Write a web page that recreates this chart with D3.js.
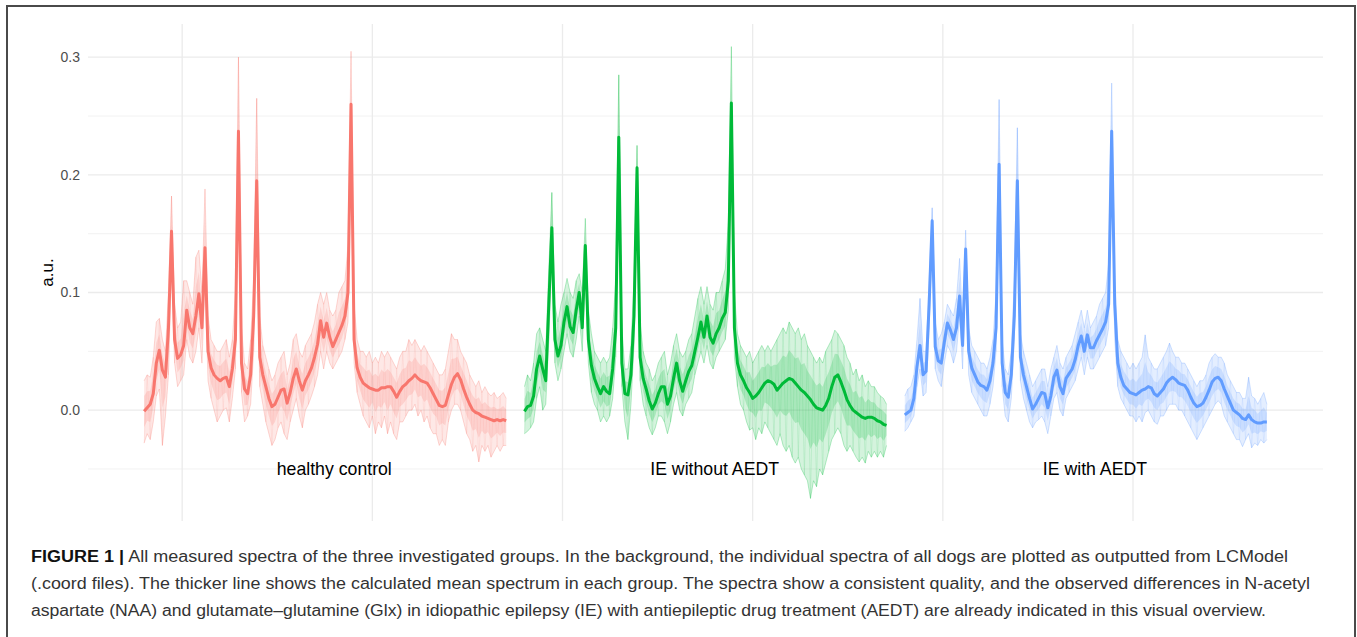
<!DOCTYPE html>
<html>
<head>
<meta charset="utf-8">
<style>
    body { margin: 0; background: #fff; }
    svg text { font-family: 'Liberation Sans', Arial, sans-serif; }
    .grid-major { stroke: #ebebeb; stroke-width: 1.3; }
    .grid-minor { stroke: #f0f0f0; stroke-width: 0.9; }
    .tick-label { fill: #4d4d4d; font-size: 14px; }
    .caption { fill: #333; font-size: 16px; }
</style>
</head>
<body>
<svg id="fig" width="1357" height="637"></svg>
<script src="https://cdnjs.cloudflare.com/ajax/libs/d3/7.8.5/d3.min.js"></script>
<script>
// groups, colours and y tick labels
var groups = ['healthy control', 'IE without AEDT', 'IE with AEDT'];
var groupColors = ['#F8766D', '#00BA38', '#619CFF'];
var yTicks = [0.0, 0.1, 0.2, 0.3];

// spectra, 120 points per group
// mean = thick line, hi / lo = spread of the individual spectra behind it
var healthyMean = [
    -0.001, 0.002, 0.005, 0.014, 0.04, 0.051, 0.034, 0.028, 0.07, 0.152,
    0.06, 0.044, 0.047, 0.055, 0.085, 0.07, 0.065, 0.08, 0.099, 0.07,
    0.138, 0.05, 0.036, 0.03, 0.027, 0.025, 0.027, 0.028, 0.02, 0.035,
    0.06, 0.237, 0.04, 0.018, 0.014, 0.03, 0.08, 0.195, 0.045, 0.03,
    0.02, 0.01, 0.003, 0.005, 0.011, 0.017, 0.018, 0.006, 0.015, 0.027,
    0.035, 0.025, 0.017, 0.025, 0.03, 0.036, 0.045, 0.056, 0.076, 0.062,
    0.074, 0.062, 0.054, 0.06, 0.066, 0.072, 0.08, 0.1, 0.26, 0.06,
    0.036, 0.028, 0.023, 0.021, 0.019, 0.018, 0.017, 0.017, 0.019, 0.019,
    0.02, 0.02, 0.016, 0.011, 0.016, 0.02, 0.022, 0.025, 0.027, 0.03,
    0.027, 0.025, 0.024, 0.023, 0.019, 0.014, 0.009, 0.004, 0.003, 0.004,
    0.013, 0.022, 0.028, 0.031, 0.026, 0.018, 0.011, 0.005, 0.0, -0.002,
    -0.003, -0.005, -0.006, -0.007, -0.008, -0.009, -0.008, -0.009, -0.008, -0.009];
var healthyHi = [
    0.025, 0.03, 0.028, 0.045, 0.075, 0.078, 0.06, 0.05, 0.1, 0.182,
    0.09, 0.07, 0.075, 0.11, 0.11, 0.1, 0.09, 0.13, 0.136, 0.1,
    0.188, 0.08, 0.06, 0.055, 0.05, 0.05, 0.055, 0.06, 0.045, 0.06,
    0.1, 0.3, 0.07, 0.04, 0.035, 0.06, 0.11, 0.265, 0.08, 0.055,
    0.045, 0.035, 0.025, 0.03, 0.04, 0.045, 0.05, 0.03, 0.04, 0.06,
    0.065, 0.05, 0.045, 0.055, 0.06, 0.065, 0.075, 0.09, 0.1, 0.09,
    0.1, 0.085, 0.08, 0.085, 0.1, 0.105, 0.11, 0.14, 0.305, 0.09,
    0.06, 0.05, 0.05, 0.045, 0.05, 0.04, 0.045, 0.04, 0.05, 0.045,
    0.05, 0.045, 0.04, 0.035, 0.045, 0.05, 0.05, 0.06, 0.055, 0.06,
    0.055, 0.05, 0.055, 0.05, 0.045, 0.04, 0.035, 0.03, 0.03, 0.035,
    0.05, 0.065, 0.06, 0.06, 0.05, 0.045, 0.04, 0.03, 0.025, 0.02,
    0.025, 0.015, 0.02, 0.015, 0.012, 0.015, 0.01, 0.012, 0.015, 0.01];
var healthyLo = [
    -0.028, -0.02, -0.025, -0.01, 0.012, 0.018, -0.03, -0.005, 0.03, 0.125,
    0.04, 0.02, 0.025, 0.03, 0.06, 0.045, 0.04, 0.05, 0.07, 0.04,
    0.11, 0.025, 0.01, 0.0, -0.01, -0.005, 0.0, 0.002, -0.01, 0.01,
    0.035, 0.2, 0.015, -0.01, -0.005, 0.005, 0.05, 0.16, 0.02, 0.005,
    -0.01, -0.02, -0.03, -0.025, -0.015, -0.01, -0.02, -0.025, -0.01, 0.0,
    0.01, -0.005, -0.015, 0.0, 0.005, 0.012, 0.02, 0.03, 0.05, 0.035,
    0.05, 0.04, 0.035, 0.04, 0.045, 0.05, 0.06, 0.075, 0.225, 0.04,
    0.015, 0.005, -0.005, -0.01, -0.015, -0.005, -0.02, -0.01, -0.015, -0.005,
    -0.02, -0.01, -0.02, -0.025, -0.01, -0.01, -0.005, 0.0, 0.0, 0.005,
    -0.005, 0.0, -0.01, -0.005, -0.015, -0.02, -0.02, -0.03, -0.025, -0.03,
    -0.01, 0.0, 0.005, 0.005, 0.0, -0.01, -0.02, -0.025, -0.035, -0.03,
    -0.044, -0.03, -0.035, -0.03, -0.04, -0.035, -0.03, -0.035, -0.03, -0.03];

var noAedtMean = [
    -0.001, 0.003, 0.004, 0.012, 0.035, 0.046, 0.035, 0.025, 0.09, 0.155,
    0.06, 0.046, 0.055, 0.075, 0.088, 0.071, 0.066, 0.085, 0.1, 0.07,
    0.14, 0.06, 0.038, 0.027, 0.02, 0.014, 0.02, 0.016, 0.014, 0.035,
    0.07, 0.232, 0.04, 0.014, 0.013, 0.03, 0.08, 0.206, 0.045, 0.027,
    0.018, 0.008, 0.001, 0.006, 0.014, 0.02, 0.02, 0.005, 0.012, 0.027,
    0.04, 0.025, 0.016, 0.025, 0.033, 0.038, 0.05, 0.062, 0.075, 0.062,
    0.08, 0.062, 0.057, 0.065, 0.07, 0.078, 0.083, 0.11, 0.261, 0.07,
    0.04, 0.03, 0.025, 0.019, 0.015, 0.01, 0.012, 0.015, 0.019, 0.023,
    0.025, 0.024, 0.022, 0.017, 0.02, 0.023, 0.025, 0.027, 0.026, 0.023,
    0.02, 0.017, 0.015, 0.012, 0.009, 0.005, 0.002, 0.001, 0.0, 0.004,
    0.01, 0.02, 0.028, 0.03, 0.024, 0.017, 0.009, 0.004, 0.0, -0.002,
    -0.004, -0.006, -0.007, -0.006, -0.006, -0.007, -0.009, -0.01, -0.012, -0.013];
var noAedtHi = [
    0.02, 0.03, 0.025, 0.04, 0.065, 0.07, 0.06, 0.05, 0.12, 0.185,
    0.09, 0.075, 0.09, 0.1, 0.112, 0.1, 0.095, 0.11, 0.116, 0.1,
    0.163, 0.085, 0.065, 0.05, 0.045, 0.04, 0.045, 0.04, 0.045, 0.07,
    0.11, 0.285, 0.07, 0.035, 0.035, 0.055, 0.11, 0.225, 0.075, 0.05,
    0.04, 0.035, 0.025, 0.03, 0.04, 0.045, 0.05, 0.03, 0.04, 0.055,
    0.065, 0.05, 0.045, 0.05, 0.06, 0.065, 0.08, 0.095, 0.105, 0.09,
    0.105, 0.09, 0.085, 0.1, 0.1, 0.11, 0.12, 0.16, 0.309, 0.1,
    0.065, 0.055, 0.05, 0.045, 0.05, 0.04, 0.045, 0.05, 0.055, 0.05,
    0.055, 0.05, 0.055, 0.06, 0.065, 0.07, 0.065, 0.075, 0.07, 0.065,
    0.07, 0.06, 0.065, 0.055, 0.05, 0.045, 0.04, 0.045, 0.04, 0.05,
    0.055, 0.06, 0.068, 0.065, 0.06, 0.055, 0.045, 0.04, 0.03, 0.035,
    0.025, 0.03, 0.02, 0.025, 0.02, 0.02, 0.015, 0.012, 0.01, 0.005];
var noAedtLo = [
    -0.02, -0.018, -0.015, -0.01, 0.01, 0.02, 0.0, 0.005, 0.06, 0.13,
    0.04, 0.025, 0.035, 0.05, 0.065, 0.05, 0.045, 0.06, 0.08, 0.05,
    0.12, 0.04, 0.015, 0.005, 0.0, -0.01, -0.005, -0.01, -0.005, 0.01,
    0.045, 0.2, 0.02, -0.01, -0.025, 0.005, 0.055, 0.17, 0.025, 0.005,
    -0.005, -0.015, -0.021, -0.015, -0.005, -0.005, -0.01, -0.02, -0.01, 0.005,
    0.015, 0.0, -0.005, 0.005, 0.01, 0.015, 0.03, 0.04, 0.05, 0.04,
    0.055, 0.04, 0.035, 0.045, 0.05, 0.055, 0.06, 0.085, 0.225, 0.045,
    0.02, 0.005, 0.0, -0.01, -0.017, -0.015, -0.025, -0.015, -0.02, -0.01,
    -0.015, -0.02, -0.025, -0.03, -0.02, -0.03, -0.035, -0.03, -0.04, -0.045,
    -0.04, -0.05, -0.055, -0.06, -0.075, -0.06, -0.065, -0.05, -0.055, -0.045,
    -0.035, -0.025, -0.02, -0.015, -0.02, -0.03, -0.035, -0.03, -0.035, -0.04,
    -0.044, -0.04, -0.045, -0.035, -0.04, -0.035, -0.04, -0.035, -0.04, -0.03];

var withAedtMean = [
    -0.004, -0.002, 0.0, 0.01, 0.037, 0.055, 0.03, 0.033, 0.09, 0.161,
    0.054, 0.042, 0.04, 0.058, 0.074, 0.068, 0.06, 0.07, 0.097, 0.055,
    0.137, 0.05, 0.036, 0.03, 0.024, 0.021, 0.02, 0.017, 0.025, 0.04,
    0.07, 0.209, 0.04, 0.015, 0.011, 0.03, 0.08, 0.195, 0.045, 0.03,
    0.02, 0.01, 0.001, 0.005, 0.01, 0.015, 0.014, 0.002, 0.012, 0.028,
    0.034, 0.02, 0.014, 0.027, 0.031, 0.035, 0.043, 0.055, 0.063, 0.05,
    0.064, 0.053, 0.053, 0.059, 0.064, 0.069, 0.075, 0.09, 0.237, 0.09,
    0.04, 0.028, 0.021, 0.018, 0.015, 0.014, 0.013, 0.015, 0.017, 0.018,
    0.02, 0.019, 0.014, 0.012, 0.015, 0.018, 0.023, 0.026, 0.028, 0.026,
    0.023, 0.022, 0.021, 0.017, 0.011, 0.006, 0.003, 0.004, 0.006, 0.011,
    0.017, 0.024, 0.027, 0.028, 0.025, 0.018, 0.012, 0.006, 0.0, -0.002,
    -0.004, -0.007, -0.008, -0.004, -0.008, -0.01, -0.011, -0.011, -0.01, -0.01];
var withAedtHi = [
    0.012, 0.018, 0.02, 0.03, 0.06, 0.095, 0.05, 0.05, 0.11, 0.172,
    0.075, 0.06, 0.065, 0.075, 0.09, 0.085, 0.08, 0.095, 0.129, 0.075,
    0.153, 0.07, 0.055, 0.05, 0.045, 0.04, 0.04, 0.035, 0.045, 0.06,
    0.1, 0.264, 0.06, 0.035, 0.03, 0.05, 0.11, 0.24, 0.065, 0.05,
    0.04, 0.03, 0.02, 0.025, 0.03, 0.035, 0.035, 0.02, 0.035, 0.045,
    0.055, 0.04, 0.035, 0.045, 0.05, 0.055, 0.065, 0.075, 0.085, 0.07,
    0.085, 0.07, 0.075, 0.08, 0.09, 0.095, 0.1, 0.125, 0.278, 0.11,
    0.06, 0.05, 0.045, 0.04, 0.035, 0.04, 0.035, 0.04, 0.045, 0.064,
    0.045, 0.04, 0.035, 0.035, 0.04, 0.045, 0.05, 0.057, 0.05, 0.045,
    0.045, 0.04, 0.04, 0.035, 0.03, 0.025, 0.02, 0.025, 0.025, 0.03,
    0.04, 0.045, 0.048, 0.045, 0.045, 0.04, 0.03, 0.025, 0.02, 0.015,
    0.015, 0.01, 0.01, 0.028, 0.012, 0.01, 0.005, 0.01, 0.015, 0.005];
var withAedtLo = [
    -0.018, -0.015, -0.01, -0.005, 0.02, 0.035, 0.012, 0.015, 0.07, 0.145,
    0.035, 0.025, 0.02, 0.04, 0.055, 0.05, 0.04, 0.05, 0.08, 0.035,
    0.12, 0.03, 0.015, 0.01, 0.005, 0.0, -0.005, -0.005, 0.005, 0.02,
    0.05, 0.18, 0.02, -0.005, -0.01, 0.01, 0.06, 0.17, 0.025, 0.01,
    0.0, -0.01, -0.015, -0.01, -0.008, -0.005, -0.01, -0.02, -0.005, 0.01,
    0.015, 0.0, -0.005, 0.01, 0.015, 0.02, 0.025, 0.035, 0.045, 0.03,
    0.045, 0.035, 0.035, 0.04, 0.045, 0.05, 0.055, 0.07, 0.21, 0.06,
    0.02, 0.01, 0.005, 0.0, -0.005, -0.005, -0.01, -0.005, -0.01, -0.002,
    0.0, -0.005, -0.01, -0.012, -0.005, -0.005, 0.0, 0.005, 0.005, 0.005,
    0.0, 0.0, -0.005, -0.01, -0.015, -0.02, -0.025, -0.02, -0.015, -0.01,
    -0.005, 0.0, 0.005, 0.008, 0.005, -0.005, -0.01, -0.015, -0.02, -0.025,
    -0.025, -0.031, -0.025, -0.02, -0.032, -0.028, -0.03, -0.025, -0.028, -0.025];

var captionLines = [
    ['FIGURE 1 |', ' All measured spectra of the three investigated groups. In the background, the individual spectra of all dogs are plotted as outputted from LCModel'],
    ['', '(.coord files). The thicker line shows the calculated mean spectrum in each group. The spectra show a consistent quality, and the observed differences in N-acetyl'],
    ['', 'aspartate (NAA) and glutamate\u2013glutamine (Glx) in idiopathic epilepsy (IE) with antiepileptic drug treatment (AEDT) are already indicated in this visual overview.']
];

// ---- layout ----
var svg = d3.select('#fig');
var panel = { left: 88, right: 1323, top: 24, bottom: 521 };

// spectra are laid side by side: each group starts 1000 units after the previous one
var groupOffset = 1000, firstStart = 400, pointStep = 8;
var series = [
    { mean: healthyMean, hi: healthyHi, lo: healthyLo },
    { mean: noAedtMean, hi: noAedtHi, lo: noAedtLo },
    { mean: withAedtMean, hi: withAedtHi, lo: withAedtLo }
];
series.forEach(function (s, g) {
    s.start = firstStart + g * groupOffset;
    s.color = groupColors[g];
    s.label = groups[g];
});
function xOf(s, i) { return s.start + i * pointStep; }

// ggplot-like 5% expansion of the data range
var xMin = d3.min(series, function (s) { return xOf(s, 0); });
var xMax = d3.max(series, function (s) { return xOf(s, s.mean.length - 1); });
var yMin = d3.min(series, function (s) { return d3.min(s.lo); });
var yMax = d3.max(series, function (s) { return d3.max(s.hi); });
var xPad = (xMax - xMin) * 0.05, yPad = (yMax - yMin) * 0.05;

var x = d3.scaleLinear().domain([xMin - xPad, xMax + xPad]).range([panel.left, panel.right]);
var y = d3.scaleLinear().domain([yMin - yPad, yMax + yPad]).range([panel.bottom, panel.top]);

// ---- grid ----
var grid = svg.append('g');
var yMinor = [];
for (var k = 0; k < yTicks.length; k++) {
    yMinor.push(yTicks[k] - 0.05);
}
grid.selectAll('.hminor').data(yMinor).join('line')
    .attr('class', 'grid-minor')
    .attr('x1', panel.left).attr('x2', panel.right)
    .attr('y1', function (d) { return y(d); }).attr('y2', function (d) { return y(d); });
grid.selectAll('.hmajor').data(yTicks).join('line')
    .attr('class', 'grid-major')
    .attr('x1', panel.left).attr('x2', panel.right)
    .attr('y1', function (d) { return y(d); }).attr('y2', function (d) { return y(d); });
grid.selectAll('.vmajor').data(x.ticks(6)).join('line')
    .attr('class', 'grid-major')
    .attr('y1', panel.top).attr('y2', panel.bottom)
    .attr('x1', function (d) { return x(d); }).attr('x2', function (d) { return x(d); });

// ---- y axis labels ----
svg.append('g').selectAll('text').data(yTicks).join('text')
    .attr('class', 'tick-label')
    .attr('text-anchor', 'end')
    .attr('x', 80)
    .attr('y', function (d) { return y(d); })
    .attr('dy', '0.35em')
    .text(d3.format('.1f'));

svg.append('text')
    .attr('transform', 'translate(53,' + ((panel.top + panel.bottom) / 2) + ') rotate(-90)')
    .attr('text-anchor', 'middle')
    .attr('font-size', 17)
    .attr('fill', '#000')
    .text('a.u.');

// ---- spectra ----
var band = d3.area()
    .x(function (d) { return x(d.x); })
    .y0(function (d) { return y(d.lo); })
    .y1(function (d) { return y(d.hi); });
var line = d3.line()
    .x(function (d) { return x(d.x); })
    .y(function (d) { return y(d.v); });

var spectra = svg.append('g');
series.forEach(function (s) {
    var pts = s.mean.map(function (v, i) {
        return { x: xOf(s, i), v: v, hi: s.hi[i], lo: s.lo[i] };
    });
    // full spread, then a denser inner half-spread around the mean
    spectra.append('path').datum(pts)
        .attr('d', band)
        .attr('fill', s.color)
        .attr('fill-opacity', 0.17);
    spectra.append('path')
        .datum(pts.map(function (d) {
            return { x: d.x, hi: (d.hi + d.v) / 2, lo: (d.lo + d.v) / 2 };
        }))
        .attr('d', band)
        .attr('fill', s.color)
        .attr('fill-opacity', 0.2);
    // a criss-crossing trace through the spread gives the noisy look
    spectra.append('path')
        .datum(pts.map(function (d, i) { return { x: d.x, v: (i % 2) ? d.hi : d.lo }; }))
        .attr('d', line)
        .attr('fill', 'none')
        .attr('stroke', s.color)
        .attr('stroke-opacity', 0.14)
        .attr('stroke-width', 0.8);
    ['hi', 'lo'].forEach(function (e) {
        spectra.append('path')
            .datum(pts.map(function (d) { return { x: d.x, v: d[e] }; }))
            .attr('d', line)
            .attr('fill', 'none')
            .attr('stroke', s.color)
            .attr('stroke-opacity', 0.28)
            .attr('stroke-width', 1);
    });
});
series.forEach(function (s) {
    spectra.append('path')
        .datum(s.mean.map(function (v, i) { return { x: xOf(s, i), v: v }; }))
        .attr('d', line)
        .attr('fill', 'none')
        .attr('stroke', s.color)
        .attr('stroke-width', 3)
        .attr('stroke-linejoin', 'round');
});

// group labels at y = -0.05
svg.append('g').selectAll('text').data(series).join('text')
    .attr('text-anchor', 'middle')
    .attr('font-size', 17.7)
    .attr('fill', '#000')
    .attr('x', function (s) { return x(s.start + 500); })
    .attr('y', y(-0.05))
    .attr('dy', '0.35em')
    .text(function (s) { return s.label; });

// ---- figure frame and caption ----
svg.append('rect')
    .attr('x', 7).attr('y', 6)
    .attr('width', 1348).attr('height', 650)
    .attr('fill', 'none')
    .attr('stroke', '#4a4a4a')
    .attr('stroke-width', 2);

var lineEnds = [1288, 1310, 1266];
var cap = svg.append('g');
captionLines.forEach(function (l, i) {
    var t = cap.append('text')
        .attr('class', 'caption')
        .attr('x', 31)
        .attr('y', 562 + i * 27)
        .attr('textLength', lineEnds[i] - 31)
        .attr('lengthAdjust', 'spacingAndGlyphs');
    if (l[0]) t.append('tspan').attr('font-weight', 'bold').attr('fill', '#111').text(l[0]);
    t.append('tspan').text(l[1]);
});
</script>
</body>
</html>
